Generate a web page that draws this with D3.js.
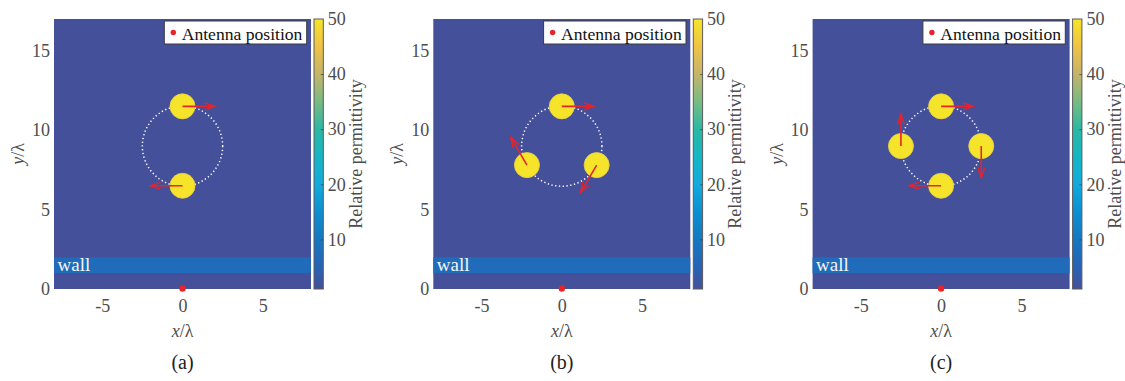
<!DOCTYPE html>
<html>
<head>
<meta charset="utf-8">
<script src="https://cdn.jsdelivr.net/npm/d3@7"></script>
<style>
  html, body { margin: 0; padding: 0; background: #ffffff; }
  svg { display: block; }
  text { font-family: "Liberation Serif", "Times New Roman", serif; }
</style>
</head>
<body>
<svg id="chart" width="1125" height="381"></svg>
<script>
// ---------------- data ----------------
const panelLabels = ["(a)", "(b)", "(c)"];
const xTicks = [-5, 0, 5];
const yTicks = [0, 5, 10, 15];
const cbTicks = [10, 20, 30, 40, 50];
const xDomain = [-8, 8];
const yDomain = [0, 17];
const epsDomain = [1, 50];
const epsBackground = 1;
const epsWall = 7;
const epsTarget = 50;
const wallY = [1, 2];
const targetRadius = 0.78;
const orbitCenter = [0, 9];
const orbitRadius = 2.5;
const antennaPos = [0, 0];
const legendLabel = "Antenna position";
const wallLabel = "wall";
const cbLabel = "Relative permittivity";

// target centres (x/λ, y/λ)
const targetsA = [[0, 11.5], [0, 6.5]];
const targetsB = [[0, 11.5], [-2.17, 7.8], [2.17, 7.8]];
const targetsC = [[0, 11.5], [-2.5, 9], [2.5, 9], [0, 6.5]];
// velocity arrows (dx, dy) in λ
const arrowsA = [[2, 0], [-2, 0]];
const arrowsB = [[2, 0], [-1, 1.73], [-1, -1.73]];
const arrowsC = [[2, 0], [0, 2], [0, -2], [-2, 0]];

const panelTargets = [targetsA, targetsB, targetsC];
const panelArrows = [arrowsA, arrowsB, arrowsC];

// colormap (parula-like, as it appears in the figure)
const cmapValues = [1, 5, 9, 15, 20, 25, 30, 35, 40, 45, 50];
const cmapColors = ["#45509a", "#2763b4", "#1873c0", "#0b8fd2", "#12abdd", "#15b6c4",
                    "#2ab8a4", "#78bb82", "#c5b46a", "#efc246", "#f5e42a"];

// ---------------- layout ----------------
const svg = d3.select("#chart");
const plotLeft = 54, plotTop = 19, plotW = 257, plotH = 270;
const panelStep = 379.3;
const cbX = 260, cbW = 9.3;

const x = d3.scaleLinear().domain(xDomain).range([0, plotW]);
const y = d3.scaleLinear().domain(yDomain).range([plotH, 0]);
const cb = d3.scaleLinear().domain(epsDomain).range([plotH, 0]);
const cmap = d3.scaleLinear().domain(cmapValues).range(cmapColors).interpolate(d3.interpolateRgb).clamp(true);

// gradient
const defs = svg.append("defs");
const grad = defs.append("linearGradient").attr("id", "parula")
  .attr("x1", 0).attr("y1", 1).attr("x2", 0).attr("y2", 0);
cmapValues.forEach((v, i) => {
  grad.append("stop")
    .attr("offset", (v - epsDomain[0]) / (epsDomain[1] - epsDomain[0]))
    .attr("stop-color", cmapColors[i]);
});

const tickColor = "#4d4d4d";
const arrowColor = "#e8232b";

panelLabels.forEach((label, pi) => {
  const panel = svg.append("g").attr("transform", `translate(${pi * panelStep},0)`);
  const g = panel.append("g").attr("transform", `translate(${plotLeft},${plotTop})`);

  // background
  g.append("rect")
    .attr("x", x(xDomain[0])).attr("y", y(yDomain[1]))
    .attr("width", x(xDomain[1]) - x(xDomain[0]))
    .attr("height", y(yDomain[0]) - y(yDomain[1]))
    .attr("fill", cmap(epsBackground));

  // wall
  g.append("rect")
    .attr("x", x(xDomain[0])).attr("y", y(wallY[1]))
    .attr("width", x(xDomain[1]) - x(xDomain[0]))
    .attr("height", y(wallY[0]) - y(wallY[1]))
    .attr("fill", cmap(epsWall));
  g.append("text")
    .attr("x", x(xDomain[0]) + 3.5).attr("y", y(wallY[0]) - 2.2)
    .attr("font-size", 19).attr("fill", "#f4f4f4")
    .text(wallLabel);

  // orbit (dotted)
  g.append("circle")
    .attr("cx", x(orbitCenter[0])).attr("cy", y(orbitCenter[1]))
    .attr("r", x(orbitRadius) - x(0))
    .attr("fill", "none").attr("stroke", "#ffffff")
    .attr("stroke-width", 1.5).attr("stroke-dasharray", "1.3 2.5");

  // targets
  const tg = panelTargets[pi];
  g.selectAll("circle.target").data(tg).enter().append("circle")
    .attr("class", "target")
    .attr("cx", d => x(d[0])).attr("cy", d => y(d[1]))
    .attr("r", x(targetRadius) - x(0))
    .attr("fill", cmap(epsTarget))
    .attr("stroke", "#e9cf4a").attr("stroke-width", 0.8);

  // arrows
  const ar = panelArrows[pi];
  tg.forEach((t, i) => {
    const x0 = x(t[0]), y0 = y(t[1]);
    const x1 = x(t[0] + ar[i][0]), y1 = y(t[1] + ar[i][1]);
    const dx = x1 - x0, dy = y1 - y0, L = Math.hypot(dx, dy);
    const ux = dx / L, uy = dy / L;
    const hl = 10, hw = 3.4;
    const bx = x1 - ux * hl, by = y1 - uy * hl;
    g.append("line")
      .attr("x1", x0).attr("y1", y0).attr("x2", x1).attr("y2", y1)
      .attr("stroke", arrowColor).attr("stroke-width", 1.6);
    g.append("path")
      .attr("d", `M${bx - uy * hw},${by + ux * hw}L${x1},${y1}L${bx + uy * hw},${by - ux * hw}`)
      .attr("fill", "none").attr("stroke", arrowColor).attr("stroke-width", 1.4)
      .attr("stroke-linejoin", "miter");
  });

  // antenna
  g.append("circle")
    .attr("cx", x(antennaPos[0])).attr("cy", y(antennaPos[1]) - 0.5)
    .attr("r", 3.2).attr("fill", arrowColor);

  // legend
  const lg = g.append("g").attr("transform", `translate(110.3,2)`);
  lg.append("rect").attr("width", 142.4).attr("height", 23)
    .attr("fill", "#ffffff").attr("stroke", "#3a3a3a").attr("stroke-width", 1);
  lg.append("circle").attr("cx", 9).attr("cy", 11.5).attr("r", 2.7).attr("fill", arrowColor);
  lg.append("text").attr("x", 17.4).attr("y", 18.5)
    .attr("font-size", 17.6).attr("fill", "#111").text(legendLabel);

  // axes
  const ax = g.append("g").attr("transform", `translate(0,${plotH})`)
    .call(d3.axisBottom(x).tickValues(xTicks).tickSize(0).tickPadding(10).tickFormat(d3.format("d")));
  const ay = g.append("g")
    .call(d3.axisLeft(y).tickValues(yTicks).tickSize(0).tickPadding(4).tickFormat(d3.format("d")));
  [ax, ay].forEach(a => {
    a.select(".domain").remove();
    a.selectAll("text").attr("font-size", 18).attr("fill", tickColor)
      .attr("font-family", '"Liberation Serif", "Times New Roman", serif');
  });
  ax.selectAll("text").text(d => d < 0 ? "-" + Math.abs(d) : d);

  // colorbar
  const cbg = g.append("g").attr("transform", `translate(${cbX},0)`);
  cbg.append("rect").attr("x", 0).attr("y", cb(epsDomain[1]))
    .attr("width", cbW).attr("height", cb(epsDomain[0]) - cb(epsDomain[1]))
    .attr("fill", "url(#parula)").attr("stroke", "#5a5a5a").attr("stroke-width", 1);
  const cba = cbg.append("g").attr("transform", `translate(${cbW},0)`)
    .call(d3.axisRight(cb).tickValues(cbTicks).tickSizeInner(-2.5).tickSizeOuter(0).tickPadding(4.5));
  cba.select(".domain").remove();
  cba.selectAll("line").attr("stroke", "#444").attr("stroke-width", 0.8);
  cba.selectAll("text").attr("font-size", 18).attr("fill", tickColor)
    .attr("font-family", '"Liberation Serif", "Times New Roman", serif');
  cba.selectAll(".tick").filter(d => d === epsDomain[1]).select("line").remove();

  // colorbar label
  panel.append("text")
    .attr("transform", `translate(362,${plotTop + plotH / 2}) rotate(-90)`)
    .attr("text-anchor", "middle").attr("font-size", 18).attr("fill", tickColor)
    .text(cbLabel);

  // axis labels
  const xl = panel.append("text")
    .attr("x", plotLeft + plotW / 2).attr("y", 337)
    .attr("text-anchor", "middle").attr("font-size", 18).attr("fill", tickColor);
  xl.append("tspan").attr("font-style", "italic").text("x");
  xl.append("tspan").text("/λ");

  const yl = panel.append("text")
    .attr("transform", `translate(24,${plotTop + plotH / 2}) rotate(-90)`)
    .attr("text-anchor", "middle").attr("font-size", 18).attr("fill", tickColor);
  yl.append("tspan").attr("font-style", "italic").text("y");
  yl.append("tspan").text("/λ");

  // panel label
  panel.append("text")
    .attr("x", plotLeft + plotW / 2).attr("y", 369)
    .attr("text-anchor", "middle").attr("font-size", 20).attr("fill", "#222")
    .text(label);
});
</script>
</body>
</html>
